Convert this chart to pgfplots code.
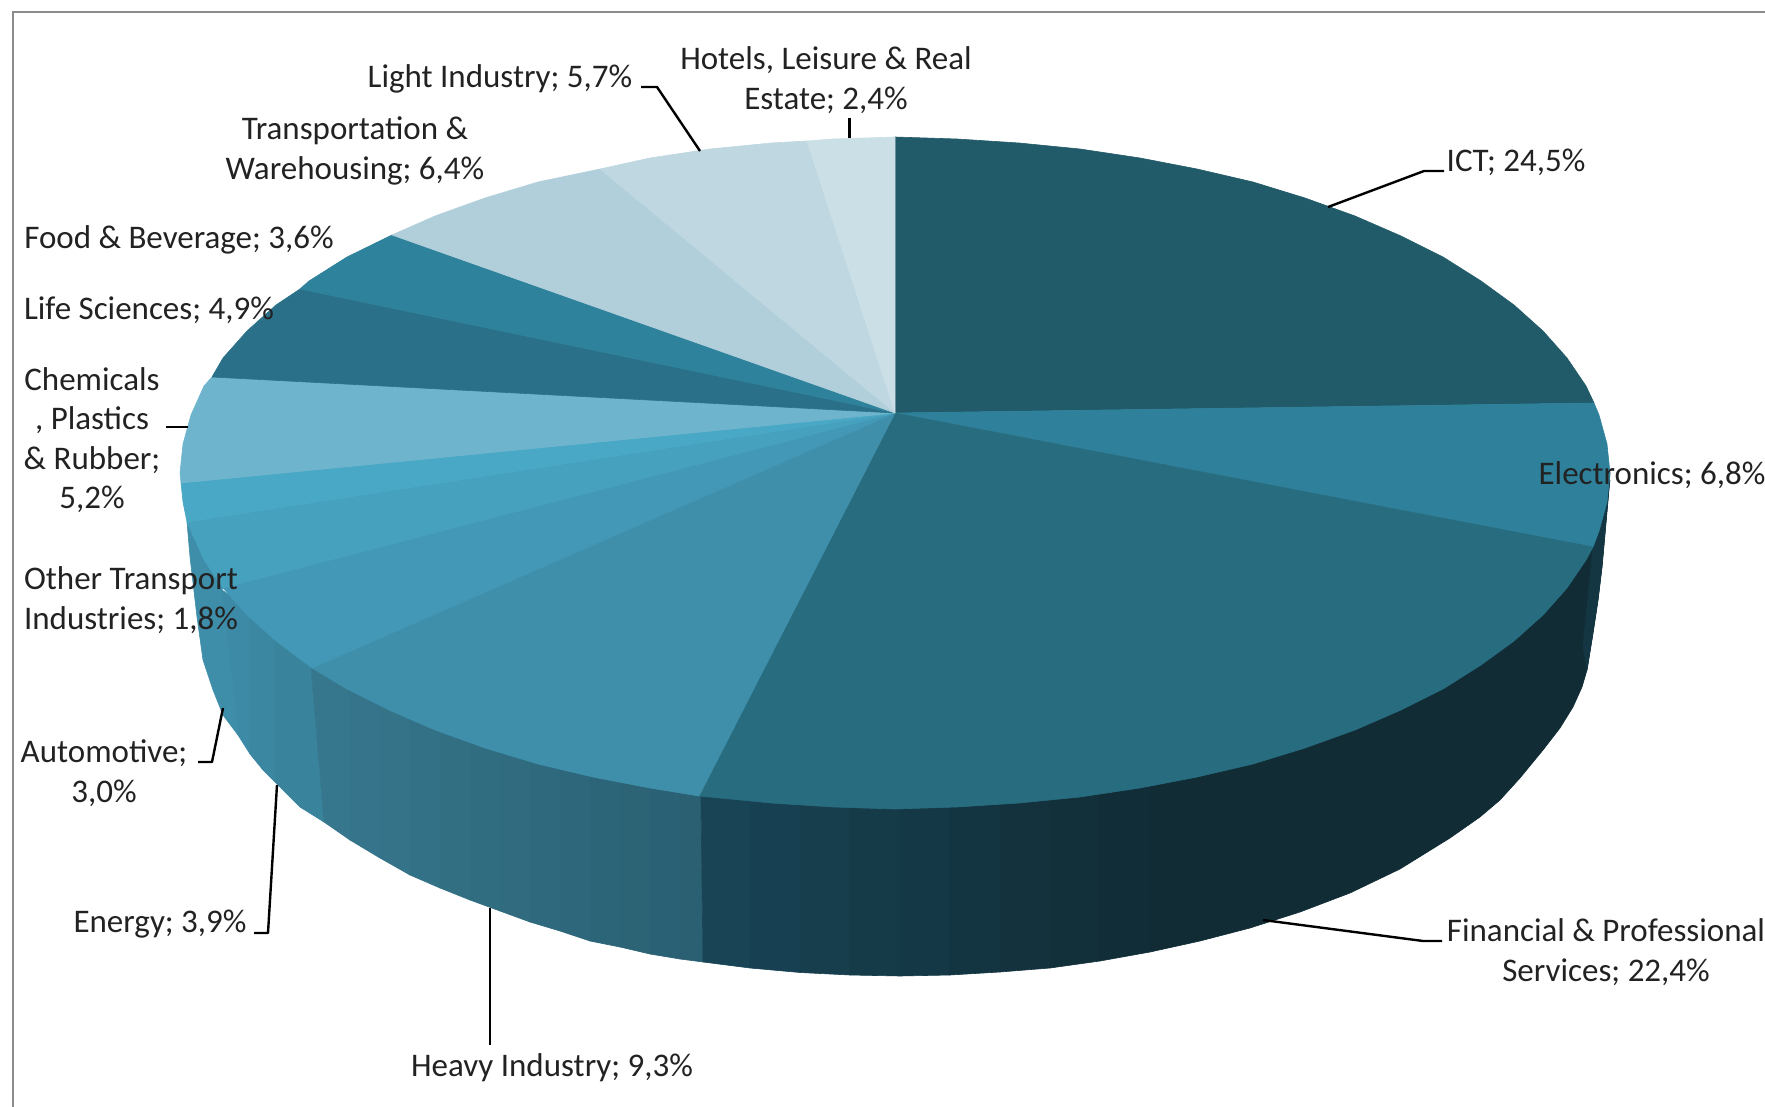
\documentclass[border=0pt]{standalone}
\usepackage{fontspec}
\setmainfont{Carlito}
\usepackage{pgfplots}
\pgfplotsset{compat=1.18}
\definecolor{cICT}{HTML}{215A68}
\definecolor{cEle}{HTML}{2F819B}
\definecolor{cFin}{HTML}{286C80}
\definecolor{cHea}{HTML}{3F8FAB}
\definecolor{cEne}{HTML}{4298B6}
\definecolor{cAut}{HTML}{45A1BE}
\definecolor{cOth}{HTML}{49A8C5}
\definecolor{cChe}{HTML}{6EB4CD}
\definecolor{cLif}{HTML}{2A7089}
\definecolor{cFoo}{HTML}{2F829B}
\definecolor{cTra}{HTML}{B0CFDB}
\definecolor{cLig}{HTML}{BFD7E1}
\definecolor{cHot}{HTML}{CBDFE7}
\definecolor{sAut}{HTML}{3F8EA9}
\definecolor{sEneA}{HTML}{3C8AA5}
\definecolor{sEneB}{HTML}{39839D}
\definecolor{sHeaA}{HTML}{37788E}
\definecolor{sHeaF}{HTML}{2A5F71}
\definecolor{sFinA}{HTML}{184658}
\definecolor{sFinF}{HTML}{112C35}
\definecolor{sFinG}{HTML}{143643}
\definecolor{txt}{HTML}{222222}
\pgfplotsset{slice/.style={fill=#1,draw=#1,line width=0.6pt,line join=round,forget plot,mark=none},
 leader/.style={draw=black,line width=2.4pt,line join=round,forget plot,mark=none}}
\begin{document}
\begin{tikzpicture}[x=1pt,y=1pt]
\path[use as bounding box] (0,0) rectangle (1765,1107);
\begin{axis}[at={(0pt,0pt)},anchor=south west,scale only axis,width=1765pt,height=1107pt,
 xmin=0,xmax=1765,ymin=0,ymax=1107,y dir=reverse,hide axis,clip=false,
 nodes={font=\fontsize{33}{39.5}\selectfont,text=txt,align=center,inner sep=0pt}]
% frame
\addplot[draw=black!45,line width=2pt,forget plot,mark=none] coordinates {(13,1107)(13,12)(1765,12)};
% side wall: Automotive
\addplot[slice=sAut] coordinates {(187,522)(190,557)(197,617)(203,660)(213,690)(223,715)(238,735)(238,727)(222,590)(230,560)(187,522)};
% side wall: Energy
\addplot[slice=sEneA] coordinates {(222,590)(238,727)(238,735)(250,754)(250,610)(222,590)};
\addplot[slice={sEneA!50!sEneB}] coordinates {(250,610)(250,754)(263,770)(275,782)(275,630)(250,610)};
\addplot[slice=sEneB] coordinates {(275,630)(275,782)(300,807)(324,822)(311,667)(275,630)};
% side wall: Heavy Industry
\addplot[slice={sHeaA!95!sHeaF}] coordinates {(311,667)(324,822)(350,840)(350,660)(311,667)};
\addplot[slice={sHeaA!86!sHeaF}] coordinates {(350,660)(350,840)(380,858)(380,660)(350,660)};
\addplot[slice={sHeaA!79!sHeaF}] coordinates {(380,660)(380,858)(410,875)(410,660)(380,660)};
\addplot[slice={sHeaA!71!sHeaF}] coordinates {(410,660)(410,875)(440,888)(440,660)(410,660)};
\addplot[slice={sHeaA!63!sHeaF}] coordinates {(440,660)(440,888)(470,900)(470,660)(440,660)};
\addplot[slice={sHeaA!56!sHeaF}] coordinates {(470,660)(470,900)(500,911)(500,660)(470,660)};
\addplot[slice={sHeaA!48!sHeaF}] coordinates {(500,660)(500,911)(530,922)(530,660)(500,660)};
\addplot[slice={sHeaA!40!sHeaF}] coordinates {(530,660)(530,922)(560,931)(560,660)(530,660)};
\addplot[slice={sHeaA!33!sHeaF}] coordinates {(560,660)(560,931)(590,941)(590,660)(560,660)};
\addplot[slice={sHeaA!25!sHeaF}] coordinates {(590,660)(590,941)(620,947)(620,660)(590,660)};
\addplot[slice={sHeaA!18!sHeaF}] coordinates {(620,660)(620,947)(650,954)(650,660)(620,660)};
\addplot[slice={sHeaA!10!sHeaF}] coordinates {(650,660)(650,954)(680,959)(680,660)(650,660)};
\addplot[slice={sHeaA!3!sHeaF}] coordinates {(680,660)(680,959)(703,962)(699,660)(680,660)};
% side wall: Financial & Professional Services
\addplot[slice={sFinA!94!sFinF}] coordinates {(699,640)(703,962)(750,968)(750,640)(699,640)};
\addplot[slice={sFinA!82!sFinF}] coordinates {(750,640)(750,968)(800,972.5)(800,640)(750,640)};
\addplot[slice={sFinA!70!sFinF}] coordinates {(800,640)(800,972.5)(850,975)(850,640)(800,640)};
\addplot[slice={sFinA!58!sFinF}] coordinates {(850,640)(850,975)(900,976)(900,640)(850,640)};
\addplot[slice={sFinA!46!sFinF}] coordinates {(900,640)(900,976)(950,975)(950,640)(900,640)};
\addplot[slice={sFinA!34!sFinF}] coordinates {(950,640)(950,975)(1000,972)(1000,640)(950,640)};
\addplot[slice={sFinA!24!sFinF}] coordinates {(1000,640)(1000,972)(1050,968)(1050,640)(1000,640)};
\addplot[slice={sFinA!14!sFinF}] coordinates {(1050,640)(1050,968)(1100,961)(1100,640)(1050,640)};
\addplot[slice={sFinA!5!sFinF}] coordinates {(1100,640)(1100,961)(1150,952)(1150,640)(1100,640)};
\addplot[slice=sFinF] coordinates {(1150,640)(1150,952)(1200,941)(1250,928)(1300,912)(1350,893)(1400,869)(1450,838)(1480,817)(1500,800)(1520,778)(1543,750)(1560,728)(1573,707)(1582,687)(1587,670)(1593,633)(1598,600)(1602,567)(1608,500)(1610,473)(1150,640)};
\addplot[slice=sFinG] coordinates {(1610,480)(1608,500)(1602,567)(1598,600)(1593,633)(1587,670)(1583,647)(1588,597)(1593,547)(1610,480)};
% top face, clockwise from twelve o'clock
% ICT 24.5
\addplot[slice=cICT] coordinates {(895,413)(895,137)(957,139)(1019,143)(1080,149)(1140,158)(1197,169)(1253,182)(1305,198)(1355,216)(1401,236)(1443,257)(1481,281)(1514,305)(1543,331)(1567,358)(1586,386)(1594,403)(895,413)};
% Electronics 6.8
\addplot[slice=cEle] coordinates {(895,413)(1594,403)(1599,415)(1607,444)(1610,473)(1607,502)(1599,531)(1593,547)(895,413)};
% Financial 22.4
\addplot[slice=cFin] coordinates {(895,413)(1593,547)(1586,560)(1567,588)(1543,615)(1514,641)(1481,665)(1443,689)(1401,710)(1355,730)(1305,748)(1253,764)(1197,777)(1140,788)(1080,797)(1019,803)(957,807)(895,809)(833,807)(771,803)(710,797)(699,796)(895,413)};
% Heavy Industry 9.3
\addplot[slice=cHea] coordinates {(895,413)(699,796)(650,788)(593,777)(538,764)(485,748)(435,730)(389,710)(347,689)(312,668)(895,413)};
% Energy 3.9
\addplot[slice=cEne] coordinates {(895,413)(312,668)(276,641)(247,615)(223,588)(895,413)};
% Automotive 3.0
\addplot[slice=cAut] coordinates {(895,413)(223,588)(204,560)(191,531)(187,522)(895,413)};
% Other Transport 1.8
\addplot[slice=cOth] coordinates {(895,413)(187,522)(183,502)(181,483)(895,413)};
% Chemicals 5.2
\addplot[slice=cChe] coordinates {(895,413)(181,483)(180,473)(183,444)(191,415)(204,386)(212,377)(895,413)};
% Life Sciences 4.9
\addplot[slice=cLif] coordinates {(895,413)(212,377)(223,358)(247,331)(276,305)(300,289)(895,413)};
% Food 3.6
\addplot[slice=cFoo] coordinates {(895,413)(300,289)(309,281)(347,257)(392,235)(895,413)};
% Transportation 6.4
\addplot[slice=cTra] coordinates {(895,413)(392,235)(435,216)(485,198)(538,182)(600,169)(895,413)};
% Light Industry 5.7
\addplot[slice=cLig] coordinates {(895,413)(600,169)(650,158)(710,149)(771,143)(807,141)(895,413)};
% Hotels 2.4
\addplot[slice=cHot] coordinates {(895,413)(807,141)(833,139)(895,137)(895,413)};
% leader lines
\addplot[leader] coordinates {(1328,207)(1424,171)(1444,171)};
\addplot[leader] coordinates {(1263,920)(1423,941)(1442,941)};
\addplot[leader] coordinates {(490,908)(490,1045)};
\addplot[leader] coordinates {(277,785)(268,933)(254,933)};
\addplot[leader] coordinates {(223,708)(212,762)(198,762)};
\addplot[leader] coordinates {(188,427)(166,427)};
\addplot[leader] coordinates {(700,151)(657,87)(641,87)};
\addplot[leader] coordinates {(849.5,118)(849.5,138)};
% labels
\node at (axis cs:1516,162) {ICT; 24,5\%};
\node at (axis cs:1652,475) {Electronics; 6,8\%};
\node at (axis cs:1606,952) {Financial \& Professional\\Services; 22,4\%};
\node at (axis cs:552,1068) {Heavy Industry; 9,3\%};
\node at (axis cs:160,924) {Energy; 3,9\%};
\node at (axis cs:104,773) {Automotive;\\3,0\%};
\node at (axis cs:131,600) {Other Transport\\Industries; 1,8\%};
\node at (axis cs:92,440) {Chemicals\\, Plastics\\\&\ Rubber;\\5,2\%};
\node at (axis cs:149,310) {Life Sciences; 4,9\%};
\node at (axis cs:179,240) {Food \& Beverage; 3,6\%};
\node at (axis cs:355,151) {Transportation \&\\Warehousing; 6,4\%};
\node at (axis cs:500,79) {Light Industry; 5,7\%};
\node at (axis cs:826,80) {Hotels, Leisure \& Real\\Estate; 2,4\%};
\end{axis}
\end{tikzpicture}
\end{document}
